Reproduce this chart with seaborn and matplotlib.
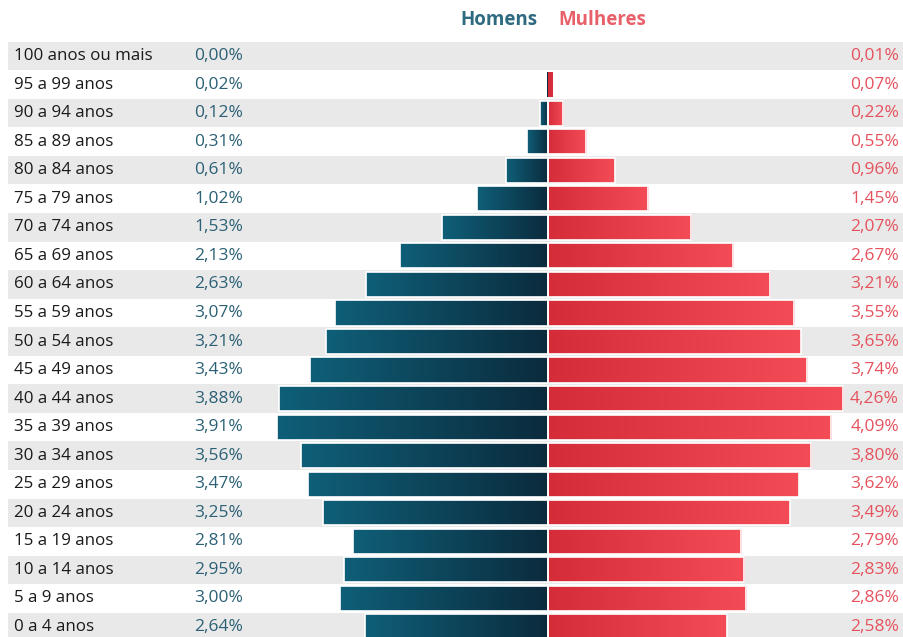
import numpy as np
import pandas as pd
import seaborn as sns
import matplotlib.pyplot as plt
from matplotlib.colors import LinearSegmentedColormap

faixas = ["100 anos ou mais", "95 a 99 anos", "90 a 94 anos", "85 a 89 anos",
          "80 a 84 anos", "75 a 79 anos", "70 a 74 anos", "65 a 69 anos",
          "60 a 64 anos", "55 a 59 anos", "50 a 54 anos", "45 a 49 anos",
          "40 a 44 anos", "35 a 39 anos", "30 a 34 anos", "25 a 29 anos",
          "20 a 24 anos", "15 a 19 anos", "10 a 14 anos", "5 a 9 anos",
          "0 a 4 anos"]
homens = [0.00, 0.02, 0.12, 0.31, 0.61, 1.02, 1.53, 2.13, 2.63, 3.07, 3.21,
          3.43, 3.88, 3.91, 3.56, 3.47, 3.25, 2.81, 2.95, 3.00, 2.64]
mulheres = [0.01, 0.07, 0.22, 0.55, 0.96, 1.45, 2.07, 2.67, 3.21, 3.55, 3.65,
            3.74, 4.26, 4.09, 3.80, 3.62, 3.49, 2.79, 2.83, 2.86, 2.58]

W, H = 904, 637
cx = 548          # pixel of the zero line
pxpct = 69.3      # pixels per percent
row0, rowh = 56, 28.55

sns.set_theme(style="white")
plt.rcParams['font.family'] = ['Open Sans', 'DejaVu Sans']

df = pd.DataFrame({"faixa": faixas, "homens": [-v for v in homens], "mulheres": mulheres})

fig = plt.figure(figsize=(W / 100, H / 100), dpi=100)
ax = fig.add_axes([0, 0, 1, 1])

xmin, xmax = -cx / pxpct, (W - cx) / pxpct
ymin, ymax = -row0 / rowh, (H - row0) / rowh

# alternating background bands
for i in range(len(faixas)):
    if i % 2 == 0:
        ax.axhspan(i - 0.5, i + 0.5, xmin=8 / W, xmax=1, color="#e9e9e9", zorder=0, lw=0)

n0 = len(ax.patches)
sns.barplot(data=df, x="homens", y="faixa", orient="h", color="#0e5a72",
            width=0.88, ax=ax, edgecolor="white", linewidth=1.2, zorder=2)
n1 = len(ax.patches)
sns.barplot(data=df, x="mulheres", y="faixa", orient="h", color="#ee4550",
            width=0.88, ax=ax, edgecolor="white", linewidth=1.2, zorder=2)
bars = list(ax.patches)[n0:]
n_m = n1 - n0

cm_h = LinearSegmentedColormap.from_list("h", ["#0f5f78", "#0b2b3d"])
cm_m = LinearSegmentedColormap.from_list("m", ["#d42c39", "#f44c57"])
grad = np.linspace(0, 1, 256).reshape(1, -1)
for k, p in enumerate(bars):
    x0, y0 = p.get_x(), p.get_y()
    w, h = p.get_width(), p.get_height()
    if abs(w) < 0.015:
        p.set_visible(False)  # too thin to show
        continue
    if abs(w) < 0.1:
        # thin bars: no white outline, plain colour
        p.set_linewidth(0)
        p.set_facecolor("#0b2b3d" if k < n_m else "#d42c39")
        continue
    cmap = cm_h if k < n_m else cm_m
    x_left, x_right = min(x0, x0 + w), max(x0, x0 + w)
    im = ax.imshow(grad, extent=[x_left, x_right, y0 + h, y0], aspect="auto",
                   cmap=cmap, zorder=2.5, interpolation="bilinear")
    im.set_clip_path(p)
    p.set_facecolor("none")
    p.set_zorder(3)

ax.set_xlim(xmin, xmax)
ax.set_ylim(ymax, ymin)
ax.axis("off")

# text columns
for i, (f, hv, mv) in enumerate(zip(faixas, homens, mulheres)):
    ax.text(14 / pxpct + xmin, i, f, ha="left", va="center", fontsize=12.2,
            color="#1a1a1a", fontweight="medium")
    ax.text(243 / pxpct + xmin, i, f"{hv:.2f}%".replace(".", ","), ha="right",
            va="center", fontsize=12.5, color="#2b6075")
    ax.text(899 / pxpct + xmin, i, f"{mv:.2f}%".replace(".", ","), ha="right",
            va="center", fontsize=12.5, color="#e5525d")

ytit = (20 - row0) / rowh
ax.text(-10 / pxpct, ytit, "Homens", ha="right", va="center", fontsize=13.5,
        fontweight="bold", color="#2e6a80")
ax.text(10 / pxpct, ytit, "Mulheres", ha="left", va="center", fontsize=13.5,
        fontweight="bold", color="#e8606a")

fig.savefig("out.png", dpi=100)
